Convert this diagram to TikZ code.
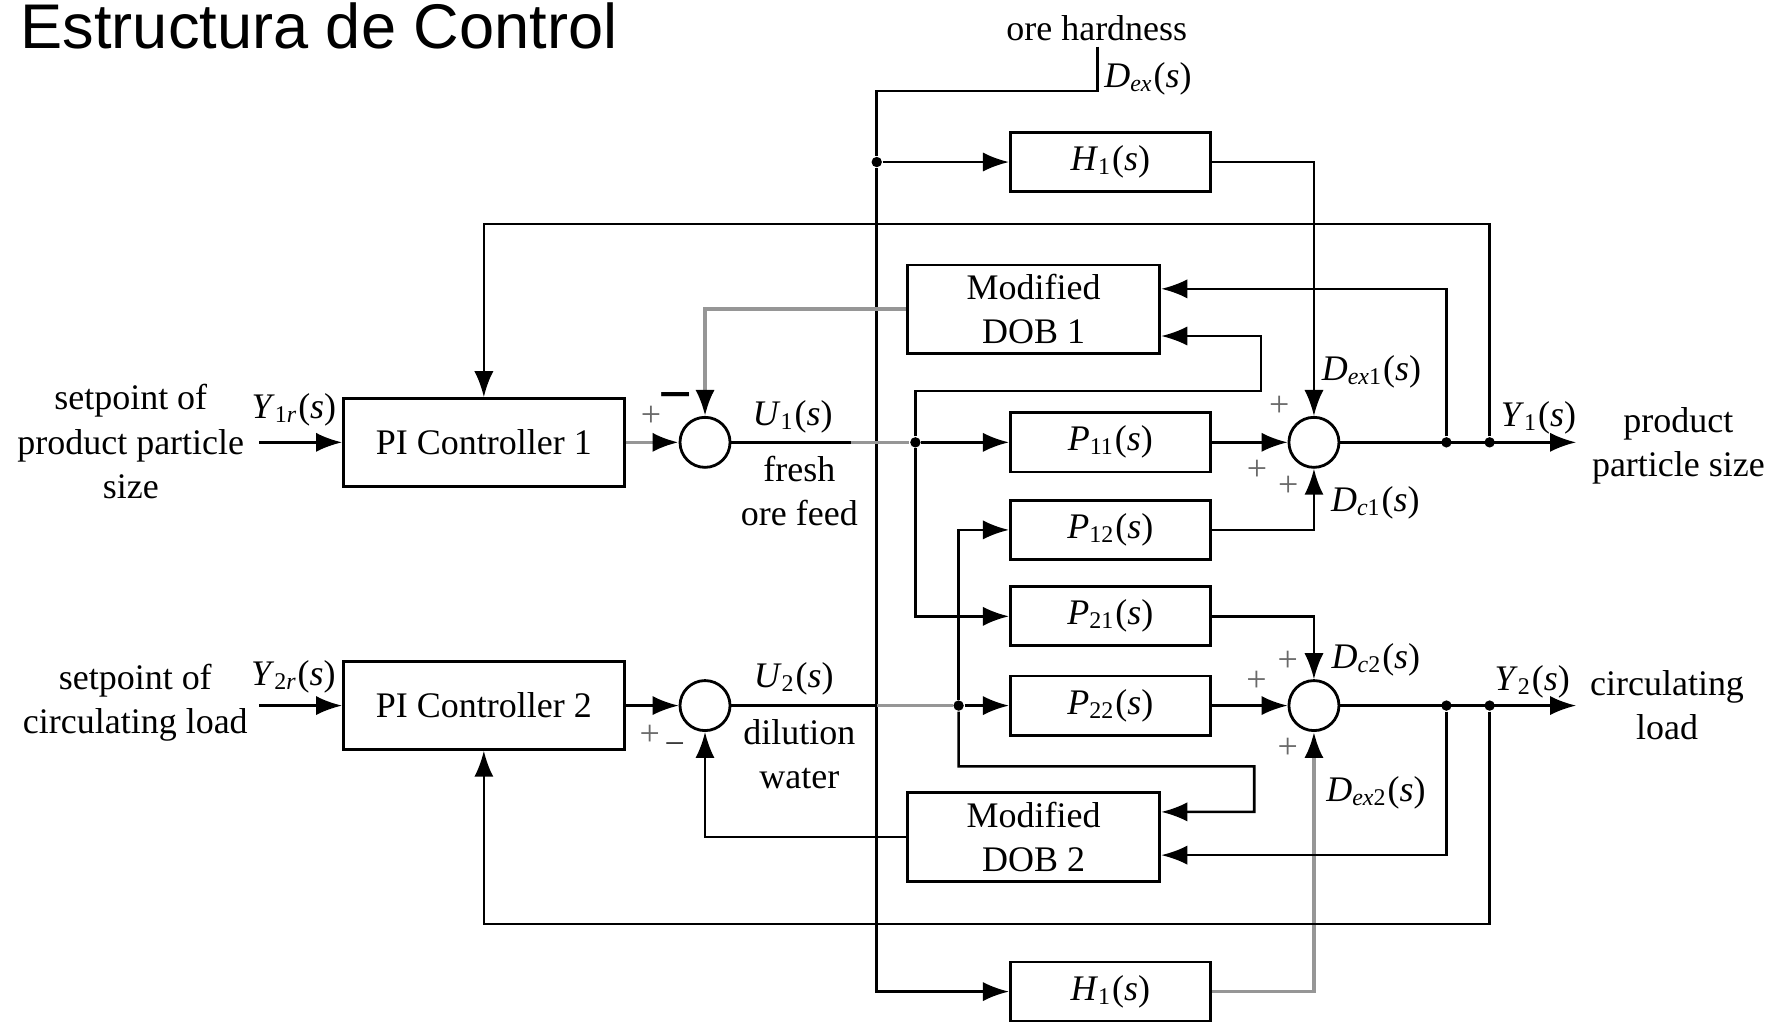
\documentclass[tikz,border=0pt]{standalone}
\usepackage{fontspec}
\setmainfont{Liberation Serif}
\newfontfamily\titlefont{Liberation Sans}
\usetikzlibrary{positioning, arrows.meta}

\definecolor{wiregray}{RGB}{150, 150, 150}
\definecolor{signgray}{RGB}{105, 105, 105}

\newcommand{\mainsize}{\fontsize{9}{11.1}\selectfont}
\newcommand{\tfn}[2]{\textit{#1}\textsubscript{#2}(\textit{s})}

\begin{document}
\begin{tikzpicture}[
    wire/.style={line width=0.65pt},
    gwire/.style={wire, draw=wiregray, line width=0.9pt},
    arr/.style={wire, -{Latex[length=6.5pt, width=4.8pt]}},
    garr/.style={gwire, -{Latex[length=6.5pt, width=4.8pt, color=black]}},
    blk/.style={draw, line width=0.7pt, minimum width=1.76cm, minimum height=0.52cm,
                inner sep=0pt, font=\mainsize},
    ctrl/.style={blk, minimum width=2.47cm, minimum height=0.77cm},
    dob/.style={blk, minimum width=2.22cm, minimum height=0.78cm, align=center},
    sumnode/.style={draw, circle, line width=0.7pt, minimum size=0.44cm, inner sep=0pt},
    lbl/.style={font=\mainsize, inner sep=0pt, align=center},
    sgn/.style={font=\mainsize, text=signgray, inner sep=0pt},
    dot/.style={circle, fill, inner sep=0pt, minimum size=2.6pt},
  ]
    \useasboundingbox (0,0) rectangle (15.68,-8.98);

    \node[anchor=base west, inner sep=0pt, font=\titlefont\fontsize{15.8}{18}\selectfont]
      (title) at (0.175,-0.43) {Estructura de Control};

    %% blocks
    \node[ctrl] (pi1) at (4.255,-3.89)  {PI Controller 1};
    \node[ctrl] (pi2) at (4.255,-6.205) {PI Controller 2};
    \node[sumnode] (s1) at (6.20,-3.89)  {};
    \node[sumnode] (s2) at (6.20,-6.205) {};

    \node[blk] (h1a)  at (9.765,-1.425) {\tfn{H}{1}};
    \node[dob] (dob1) at (9.09,-2.72)   {Modified\\DOB 1};
    \node[blk] (p11)  at (9.765,-3.89)  {\tfn{P}{11}};
    \node[blk] (p12)  at (9.765,-4.66)  {\tfn{P}{12}};
    \node[blk] (p21)  at (9.765,-5.42)  {\tfn{P}{21}};
    \node[blk] (p22)  at (9.765,-6.205) {\tfn{P}{22}};
    \node[dob] (dob2) at (9.09,-7.36)   {Modified\\DOB 2};
    \node[blk] (h1b)  at (9.765,-8.72)  {\tfn{H}{1}};

    \node[sumnode] (y1sum) at (11.555,-3.89)  {};
    \node[sumnode] (y2sum) at (11.555,-6.205) {};

    %% branch points and free ends
    \node[dot] (dex)  at (7.71,-1.425) {};
    \node[dot] (du1)  at (8.05,-3.89)  {};
    \node[dot] (du2)  at (8.43,-6.205) {};
    \node[dot] (dy1a) at (12.72,-3.89) {};
    \node[dot] (dy1b) at (13.10,-3.89) {};
    \node[dot] (dy2a) at (12.72,-6.205) {};
    \node[dot] (dy2b) at (13.10,-6.205) {};
    \coordinate (dtop)  at (9.65,-0.41);
    \coordinate (r1in)  at (2.28,-3.89);
    \coordinate (r2in)  at (2.28,-6.205);
    \coordinate (y1out) at (13.86,-3.89);
    \coordinate (y2out) at (13.86,-6.205);
    \coordinate (u1g)   at (7.48,-3.89);
    \coordinate (u2g)   at (7.71,-6.205);

    %% texts
    \node[lbl] (sp1)   at (1.15,-3.885) {setpoint of\\product particle\\size};
    \node[lbl] (sp2)   at (1.19,-6.18)  {setpoint of\\circulating load};
    \node[lbl] (y1r)   at (2.585,-3.60) {\tfn{Y}{1\textit{r}}};
    \node[lbl] (y2r)   at (2.58,-5.95)  {\tfn{Y}{2\textit{r}}};
    \node[lbl] (u1)    at (6.97,-3.67)  {\tfn{U}{1}};
    \node[lbl] (feed)  at (7.03,-4.32)  {fresh\\ore feed};
    \node[lbl] (u2)    at (6.98,-5.97)  {\tfn{U}{2}};
    \node[lbl] (water) at (7.03,-6.63)  {dilution\\water};
    \node[lbl] (hard)  at (9.645,-0.25) {ore hardness};
    \node[lbl] (dexl)  at (10.095,-0.69) {\tfn{D}{\textit{ex}}};
    \node[lbl] (dex1)  at (12.06,-3.27)  {\tfn{D}{\textit{ex}1}};
    \node[lbl] (dc1)   at (12.095,-4.425) {\tfn{D}{\textit{c}1}};
    \node[lbl] (dc2)   at (12.10,-5.80)  {\tfn{D}{\textit{c}2}};
    \node[lbl] (dex2)  at (12.10,-6.975) {\tfn{D}{\textit{ex}2}};
    \node[lbl] (y1)    at (13.53,-3.675) {\tfn{Y}{1}};
    \node[lbl] (y2)    at (13.475,-5.995) {\tfn{Y}{2}};
    \node[lbl] (out1)  at (14.76,-3.92)  {product\\particle size};
    \node[lbl] (out2)  at (14.66,-6.20)  {circulating\\load};

    % signs at the summing points
    \node[sgn] at (5.725,-3.665) {+};
    \node[font=\bfseries\fontsize{15}{15}\selectfont, inner sep=0pt] at (5.945,-3.55) {−};
    \node[sgn] at (5.715,-6.465) {+};
    \node[font=\mainsize, text=black!80, inner sep=0pt] at (5.935,-6.585) {−};
    \node[sgn] at (11.25,-3.575) {+};
    \node[sgn] at (11.055,-4.135) {+};
    \node[sgn] at (11.33,-4.28) {+};
    \node[sgn] at (11.325,-5.82) {+};
    \node[sgn] at (11.05,-5.995) {+};
    \node[sgn] at (11.325,-6.58) {+};

    %% disturbance path
    \draw[arr] (dtop) -- ++(0,-0.39) -| (dex) |- (h1b.west);
    \draw[arr] (dex) -- (h1a.west);
    \draw[arr] (h1a.east) -| (y1sum.north);
    \draw[garr] (h1b.east) -| (y2sum.south);

    %% loop 1
    \draw[arr] (r1in) -- (pi1.west);
    \draw[garr] (pi1.east) -- (s1.west);
    \draw[wire] (s1.east) -- (u1g);
    \draw[gwire] (u1g) -- (du1);
    \draw[arr] (du1) -- (p11.west);
    \draw[arr] (p11.east) -- (y1sum.west);
    \draw[arr] (p12.east) -| (y1sum.south);
    \draw[arr] (y1sum.east) -- (y1out);
    \draw[arr] (dy1b) -- ++(0,1.92) -| (pi1.north);
    \draw[arr] (dy1a) |- ([yshift=0.18cm]dob1.east);
    \draw[arr] (du1) |- (11.09,-3.44) |- ([yshift=-0.235cm]dob1.east);
    \draw[arr] (du1) |- (p21.west);
    \draw[garr] (dob1.west) -| (s1.north);

    %% loop 2
    \draw[arr] (r2in) -- (pi2.west);
    \draw[arr] (pi2.east) -- (s2.west);
    \draw[wire] (s2.east) -- (u2g);
    \draw[gwire] (u2g) -- (du2);
    \draw[arr] (du2) -- (p22.west);
    \draw[arr] (du2) |- (p12.west);
    \draw[arr] (du2) -- ++(0,-0.535) -| (11.03,-7.14) -- ([yshift=0.22cm]dob2.east);
    \draw[arr] (p21.east) -| (y2sum.north);
    \draw[arr] (p22.east) -- (y2sum.west);
    \draw[arr] (y2sum.east) -- (y2out);
    \draw[arr] (dy2a) |- ([yshift=-0.16cm]dob2.east);
    \draw[arr] (dy2b) -- ++(0,-1.92) -| (pi2.south);
    \draw[arr] (dob2.west) -| (s2.south);
  \end{tikzpicture}
\end{document}
